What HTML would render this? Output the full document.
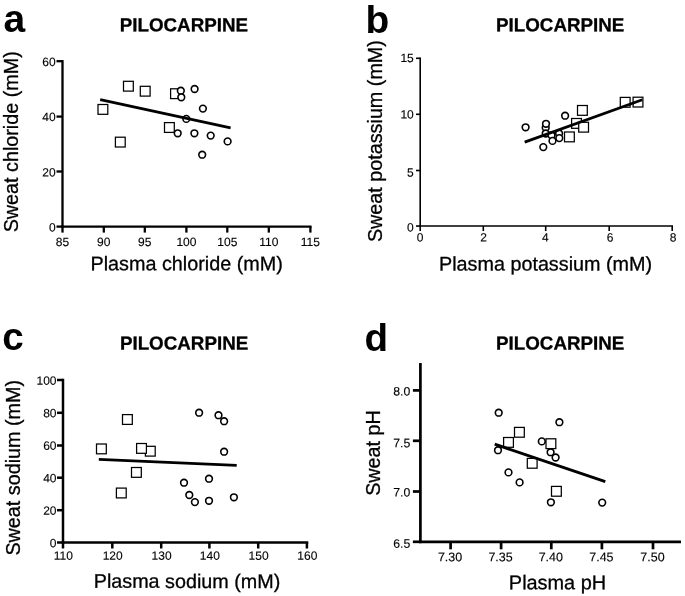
<!DOCTYPE html>
<html><head><meta charset="utf-8"><title>Pilocarpine sweat vs plasma</title>
<style>
html,body{margin:0;padding:0;background:#fff;}
body{width:685px;height:596px;overflow:hidden;font-family:"Liberation Sans", sans-serif;}
svg{display:block;will-change:transform;}
svg text{font-family:"Liberation Sans", sans-serif;fill:#000;stroke:#000;stroke-width:0.3px;}
</style></head>
<body>
<svg width="685" height="596" viewBox="0 0 685 596">
<rect x="0" y="0" width="685" height="596" fill="#ffffff"/>
<line x1="62.50" y1="60.05" x2="62.50" y2="227.75" stroke="#000" stroke-width="2.3" stroke-linecap="butt"/>
<line x1="61.35" y1="226.60" x2="311.55" y2="226.60" stroke="#000" stroke-width="2.3" stroke-linecap="butt"/>
<line x1="56.50" y1="61.20" x2="62.50" y2="61.20" stroke="#000" stroke-width="2.3" stroke-linecap="butt"/>
<text x="55.6" y="66.1" font-size="12" font-weight="normal" text-anchor="end" transform="rotate(0.03 55.6 66.1)" style="stroke-width:0.12px">60</text>
<line x1="56.50" y1="116.60" x2="62.50" y2="116.60" stroke="#000" stroke-width="2.3" stroke-linecap="butt"/>
<text x="55.6" y="120.9" font-size="12" font-weight="normal" text-anchor="end" transform="rotate(0.03 55.6 120.9)" style="stroke-width:0.12px">40</text>
<line x1="56.50" y1="171.50" x2="62.50" y2="171.50" stroke="#000" stroke-width="2.3" stroke-linecap="butt"/>
<text x="55.6" y="176.6" font-size="12" font-weight="normal" text-anchor="end" transform="rotate(0.03 55.6 176.6)" style="stroke-width:0.12px">20</text>
<line x1="56.50" y1="226.60" x2="62.50" y2="226.60" stroke="#000" stroke-width="2.3" stroke-linecap="butt"/>
<text x="55.6" y="231.5" font-size="12" font-weight="normal" text-anchor="end" transform="rotate(0.03 55.6 231.5)" style="stroke-width:0.12px">0</text>
<line x1="62.50" y1="226.60" x2="62.50" y2="232.60" stroke="#000" stroke-width="2.3" stroke-linecap="butt"/>
<text x="62.5" y="245.9" font-size="12" font-weight="normal" text-anchor="middle" transform="rotate(0.03 62.5 245.9)" style="stroke-width:0.12px">85</text>
<line x1="103.80" y1="226.60" x2="103.80" y2="232.60" stroke="#000" stroke-width="2.3" stroke-linecap="butt"/>
<text x="103.8" y="245.9" font-size="12" font-weight="normal" text-anchor="middle" transform="rotate(0.03 103.8 245.9)" style="stroke-width:0.12px">90</text>
<line x1="144.80" y1="226.60" x2="144.80" y2="232.60" stroke="#000" stroke-width="2.3" stroke-linecap="butt"/>
<text x="144.8" y="245.9" font-size="12" font-weight="normal" text-anchor="middle" transform="rotate(0.03 144.8 245.9)" style="stroke-width:0.12px">95</text>
<line x1="186.40" y1="226.60" x2="186.40" y2="232.60" stroke="#000" stroke-width="2.3" stroke-linecap="butt"/>
<text x="186.4" y="245.9" font-size="12" font-weight="normal" text-anchor="middle" transform="rotate(0.03 186.4 245.9)" style="stroke-width:0.12px">100</text>
<line x1="227.30" y1="226.60" x2="227.30" y2="232.60" stroke="#000" stroke-width="2.3" stroke-linecap="butt"/>
<text x="227.3" y="245.9" font-size="12" font-weight="normal" text-anchor="middle" transform="rotate(0.03 227.3 245.9)" style="stroke-width:0.12px">105</text>
<line x1="268.80" y1="226.60" x2="268.80" y2="232.60" stroke="#000" stroke-width="2.3" stroke-linecap="butt"/>
<text x="268.8" y="245.9" font-size="12" font-weight="normal" text-anchor="middle" transform="rotate(0.03 268.8 245.9)" style="stroke-width:0.12px">110</text>
<line x1="310.40" y1="226.60" x2="310.40" y2="232.60" stroke="#000" stroke-width="2.3" stroke-linecap="butt"/>
<text x="310.4" y="245.9" font-size="12" font-weight="normal" text-anchor="middle" transform="rotate(0.03 310.4 245.9)" style="stroke-width:0.12px">115</text>
<text x="183.9" y="31.3" font-size="18.8" font-weight="bold" text-anchor="middle" transform="rotate(0.03 183.9 31.3)">PILOCARPINE</text>
<text x="186.7" y="270.3" font-size="19.8" font-weight="normal" text-anchor="middle" transform="rotate(0.03 186.7 270.3)">Plasma chloride (mM)</text>
<text x="18.1" y="141.8" font-size="19.75" font-weight="normal" text-anchor="middle" transform="rotate(-90 18.1 141.8)">Sweat chloride (mM)</text>
<text x="3.4" y="31.8" font-size="39" font-weight="bold" text-anchor="start" style="stroke-width:0">a</text>
<rect x="98.00" y="104.50" width="9.8" height="9.8" fill="#fff" stroke="#000" stroke-width="1.25"/>
<rect x="115.40" y="137.20" width="9.8" height="9.8" fill="#fff" stroke="#000" stroke-width="1.25"/>
<rect x="123.50" y="81.30" width="9.8" height="9.8" fill="#fff" stroke="#000" stroke-width="1.25"/>
<rect x="140.30" y="86.30" width="9.8" height="9.8" fill="#fff" stroke="#000" stroke-width="1.25"/>
<rect x="164.50" y="122.60" width="9.8" height="9.8" fill="#fff" stroke="#000" stroke-width="1.25"/>
<rect x="170.60" y="88.80" width="9.8" height="9.8" fill="#fff" stroke="#000" stroke-width="1.25"/>
<circle cx="180.80" cy="90.70" r="3.35" fill="#fff" stroke="#000" stroke-width="1.6"/>
<circle cx="181.30" cy="97.30" r="3.35" fill="#fff" stroke="#000" stroke-width="1.6"/>
<circle cx="194.60" cy="89.00" r="3.35" fill="#fff" stroke="#000" stroke-width="1.6"/>
<circle cx="202.90" cy="108.60" r="3.35" fill="#fff" stroke="#000" stroke-width="1.6"/>
<circle cx="186.30" cy="118.90" r="3.35" fill="#fff" stroke="#000" stroke-width="1.6"/>
<circle cx="177.70" cy="133.30" r="3.35" fill="#fff" stroke="#000" stroke-width="1.6"/>
<circle cx="194.40" cy="133.30" r="3.35" fill="#fff" stroke="#000" stroke-width="1.6"/>
<circle cx="210.70" cy="135.60" r="3.35" fill="#fff" stroke="#000" stroke-width="1.6"/>
<circle cx="227.60" cy="141.40" r="3.35" fill="#fff" stroke="#000" stroke-width="1.6"/>
<circle cx="202.20" cy="154.70" r="3.35" fill="#fff" stroke="#000" stroke-width="1.6"/>
<line x1="100.20" y1="99.70" x2="230.60" y2="127.90" stroke="#000" stroke-width="2.8" stroke-linecap="butt"/>
<line x1="420.20" y1="57.50" x2="420.20" y2="226.85" stroke="#000" stroke-width="1.6" stroke-linecap="butt"/>
<line x1="419.40" y1="226.05" x2="673.00" y2="226.05" stroke="#000" stroke-width="1.6" stroke-linecap="butt"/>
<line x1="416.00" y1="58.30" x2="420.20" y2="58.30" stroke="#000" stroke-width="1.6" stroke-linecap="butt"/>
<text x="413.8" y="62.1" font-size="12" font-weight="normal" text-anchor="end" transform="rotate(0.03 413.8 62.1)" style="stroke-width:0.12px">15</text>
<line x1="416.00" y1="114.30" x2="420.20" y2="114.30" stroke="#000" stroke-width="1.6" stroke-linecap="butt"/>
<text x="413.8" y="118.6" font-size="12" font-weight="normal" text-anchor="end" transform="rotate(0.03 413.8 118.6)" style="stroke-width:0.12px">10</text>
<line x1="416.00" y1="170.50" x2="420.20" y2="170.50" stroke="#000" stroke-width="1.6" stroke-linecap="butt"/>
<text x="413.8" y="176.6" font-size="12" font-weight="normal" text-anchor="end" transform="rotate(0.03 413.8 176.6)" style="stroke-width:0.12px">5</text>
<line x1="416.00" y1="226.05" x2="420.20" y2="226.05" stroke="#000" stroke-width="1.6" stroke-linecap="butt"/>
<text x="413.8" y="231.6" font-size="12" font-weight="normal" text-anchor="end" transform="rotate(0.03 413.8 231.6)" style="stroke-width:0.12px">0</text>
<line x1="420.20" y1="226.05" x2="420.20" y2="231.05" stroke="#000" stroke-width="1.6" stroke-linecap="butt"/>
<text x="420.0" y="241.5" font-size="12" font-weight="normal" text-anchor="middle" transform="rotate(0.03 420.0 241.5)" style="stroke-width:0.12px">0</text>
<line x1="483.30" y1="226.05" x2="483.30" y2="231.05" stroke="#000" stroke-width="1.6" stroke-linecap="butt"/>
<text x="483.6" y="241.5" font-size="12" font-weight="normal" text-anchor="middle" transform="rotate(0.03 483.6 241.5)" style="stroke-width:0.12px">2</text>
<line x1="545.70" y1="226.05" x2="545.70" y2="231.05" stroke="#000" stroke-width="1.6" stroke-linecap="butt"/>
<text x="545.4" y="241.5" font-size="12" font-weight="normal" text-anchor="middle" transform="rotate(0.03 545.4 241.5)" style="stroke-width:0.12px">4</text>
<line x1="609.20" y1="226.05" x2="609.20" y2="231.05" stroke="#000" stroke-width="1.6" stroke-linecap="butt"/>
<text x="610.0" y="241.5" font-size="12" font-weight="normal" text-anchor="middle" transform="rotate(0.03 610.0 241.5)" style="stroke-width:0.12px">6</text>
<line x1="672.20" y1="226.05" x2="672.20" y2="231.05" stroke="#000" stroke-width="1.6" stroke-linecap="butt"/>
<text x="673.0" y="241.5" font-size="12" font-weight="normal" text-anchor="middle" transform="rotate(0.03 673.0 241.5)" style="stroke-width:0.12px">8</text>
<text x="560.2" y="31.3" font-size="18.8" font-weight="bold" text-anchor="middle" transform="rotate(0.03 560.2 31.3)">PILOCARPINE</text>
<text x="545.55" y="270.5" font-size="19.78" font-weight="normal" text-anchor="middle" transform="rotate(0.03 545.55 270.5)">Plasma potassium (mM)</text>
<text x="381.6" y="141.1" font-size="19.75" font-weight="normal" text-anchor="middle" transform="rotate(-90 381.6 141.1)">Sweat potassium (mM)</text>
<text x="365.44" y="33.3" font-size="38.9" font-weight="bold" text-anchor="start" style="stroke-width:0">b</text>
<circle cx="525.60" cy="127.30" r="3.35" fill="#fff" stroke="#000" stroke-width="1.6"/>
<circle cx="545.70" cy="127.80" r="3.35" fill="#fff" stroke="#000" stroke-width="1.6"/>
<circle cx="546.00" cy="123.80" r="3.35" fill="#fff" stroke="#000" stroke-width="1.6"/>
<circle cx="545.70" cy="133.50" r="3.35" fill="#fff" stroke="#000" stroke-width="1.6"/>
<circle cx="551.50" cy="135.30" r="3.35" fill="#fff" stroke="#000" stroke-width="1.6"/>
<circle cx="559.10" cy="133.50" r="3.35" fill="#fff" stroke="#000" stroke-width="1.6"/>
<circle cx="559.30" cy="138.10" r="3.35" fill="#fff" stroke="#000" stroke-width="1.6"/>
<circle cx="552.50" cy="140.90" r="3.35" fill="#fff" stroke="#000" stroke-width="1.6"/>
<circle cx="543.30" cy="147.10" r="3.35" fill="#fff" stroke="#000" stroke-width="1.6"/>
<circle cx="565.10" cy="115.70" r="3.35" fill="#fff" stroke="#000" stroke-width="1.6"/>
<rect x="577.50" y="105.50" width="9.8" height="9.8" fill="#fff" stroke="#000" stroke-width="1.25"/>
<rect x="571.60" y="118.50" width="9.8" height="9.8" fill="#fff" stroke="#000" stroke-width="1.25"/>
<rect x="578.70" y="122.30" width="9.8" height="9.8" fill="#fff" stroke="#000" stroke-width="1.25"/>
<rect x="564.50" y="132.00" width="9.8" height="9.8" fill="#fff" stroke="#000" stroke-width="1.25"/>
<rect x="620.30" y="97.40" width="9.8" height="9.8" fill="#fff" stroke="#000" stroke-width="1.25"/>
<rect x="633.10" y="97.20" width="9.8" height="9.8" fill="#fff" stroke="#000" stroke-width="1.25"/>
<line x1="524.70" y1="142.10" x2="642.30" y2="99.80" stroke="#000" stroke-width="2.8" stroke-linecap="butt"/>
<line x1="63.00" y1="378.75" x2="63.00" y2="543.75" stroke="#000" stroke-width="2.5" stroke-linecap="butt"/>
<line x1="61.75" y1="542.50" x2="308.25" y2="542.50" stroke="#000" stroke-width="2.5" stroke-linecap="butt"/>
<line x1="57.00" y1="380.00" x2="63.00" y2="380.00" stroke="#000" stroke-width="2.5" stroke-linecap="butt"/>
<text x="56.5" y="384.8" font-size="12" font-weight="normal" text-anchor="end" transform="rotate(0.03 56.5 384.8)" style="stroke-width:0.12px">100</text>
<line x1="57.00" y1="412.80" x2="63.00" y2="412.80" stroke="#000" stroke-width="2.5" stroke-linecap="butt"/>
<text x="56.5" y="417.3" font-size="12" font-weight="normal" text-anchor="end" transform="rotate(0.03 56.5 417.3)" style="stroke-width:0.12px">80</text>
<line x1="57.00" y1="445.50" x2="63.00" y2="445.50" stroke="#000" stroke-width="2.5" stroke-linecap="butt"/>
<text x="56.5" y="449.8" font-size="12" font-weight="normal" text-anchor="end" transform="rotate(0.03 56.5 449.8)" style="stroke-width:0.12px">60</text>
<line x1="57.00" y1="477.70" x2="63.00" y2="477.70" stroke="#000" stroke-width="2.5" stroke-linecap="butt"/>
<text x="56.5" y="482.3" font-size="12" font-weight="normal" text-anchor="end" transform="rotate(0.03 56.5 482.3)" style="stroke-width:0.12px">40</text>
<line x1="57.00" y1="510.20" x2="63.00" y2="510.20" stroke="#000" stroke-width="2.5" stroke-linecap="butt"/>
<text x="56.5" y="514.7" font-size="12" font-weight="normal" text-anchor="end" transform="rotate(0.03 56.5 514.7)" style="stroke-width:0.12px">20</text>
<line x1="57.00" y1="542.50" x2="63.00" y2="542.50" stroke="#000" stroke-width="2.5" stroke-linecap="butt"/>
<text x="56.5" y="547.3" font-size="12" font-weight="normal" text-anchor="end" transform="rotate(0.03 56.5 547.3)" style="stroke-width:0.12px">0</text>
<line x1="63.00" y1="542.50" x2="63.00" y2="548.50" stroke="#000" stroke-width="2.5" stroke-linecap="butt"/>
<text x="63.4" y="559.7" font-size="12" font-weight="normal" text-anchor="middle" transform="rotate(0.03 63.4 559.7)" style="stroke-width:0.12px">110</text>
<line x1="112.30" y1="542.50" x2="112.30" y2="548.50" stroke="#000" stroke-width="2.5" stroke-linecap="butt"/>
<text x="112.7" y="559.7" font-size="12" font-weight="normal" text-anchor="middle" transform="rotate(0.03 112.7 559.7)" style="stroke-width:0.12px">120</text>
<line x1="161.20" y1="542.50" x2="161.20" y2="548.50" stroke="#000" stroke-width="2.5" stroke-linecap="butt"/>
<text x="161.6" y="559.7" font-size="12" font-weight="normal" text-anchor="middle" transform="rotate(0.03 161.6 559.7)" style="stroke-width:0.12px">130</text>
<line x1="209.40" y1="542.50" x2="209.40" y2="548.50" stroke="#000" stroke-width="2.5" stroke-linecap="butt"/>
<text x="209.8" y="559.7" font-size="12" font-weight="normal" text-anchor="middle" transform="rotate(0.03 209.8 559.7)" style="stroke-width:0.12px">140</text>
<line x1="258.20" y1="542.50" x2="258.20" y2="548.50" stroke="#000" stroke-width="2.5" stroke-linecap="butt"/>
<text x="258.6" y="559.7" font-size="12" font-weight="normal" text-anchor="middle" transform="rotate(0.03 258.6 559.7)" style="stroke-width:0.12px">150</text>
<line x1="306.90" y1="542.50" x2="306.90" y2="548.50" stroke="#000" stroke-width="2.5" stroke-linecap="butt"/>
<text x="307.3" y="559.7" font-size="12" font-weight="normal" text-anchor="middle" transform="rotate(0.03 307.3 559.7)" style="stroke-width:0.12px">160</text>
<text x="184.1" y="349.5" font-size="18.8" font-weight="bold" text-anchor="middle" transform="rotate(0.03 184.1 349.5)">PILOCARPINE</text>
<text x="187" y="587.9" font-size="19.75" font-weight="normal" text-anchor="middle" transform="rotate(0.03 187 587.9)">Plasma sodium (mM)</text>
<text x="19.6" y="467.8" font-size="19.75" font-weight="normal" text-anchor="middle" transform="rotate(-90 19.6 467.8)">Sweat sodium (mM)</text>
<text x="2.2" y="350.2" font-size="38.6" font-weight="bold" text-anchor="start" style="stroke-width:0">c</text>
<rect x="96.50" y="444.00" width="9.8" height="9.8" fill="#fff" stroke="#000" stroke-width="1.25"/>
<rect x="122.50" y="414.60" width="9.8" height="9.8" fill="#fff" stroke="#000" stroke-width="1.25"/>
<rect x="145.40" y="446.30" width="9.8" height="9.8" fill="#fff" stroke="#000" stroke-width="1.25"/>
<rect x="136.60" y="443.50" width="9.8" height="9.8" fill="#fff" stroke="#000" stroke-width="1.25"/>
<rect x="131.50" y="467.50" width="9.8" height="9.8" fill="#fff" stroke="#000" stroke-width="1.25"/>
<rect x="116.40" y="488.10" width="9.8" height="9.8" fill="#fff" stroke="#000" stroke-width="1.25"/>
<circle cx="199.10" cy="412.70" r="3.35" fill="#fff" stroke="#000" stroke-width="1.6"/>
<circle cx="218.50" cy="415.20" r="3.35" fill="#fff" stroke="#000" stroke-width="1.6"/>
<circle cx="224.10" cy="421.20" r="3.35" fill="#fff" stroke="#000" stroke-width="1.6"/>
<circle cx="224.10" cy="451.70" r="3.35" fill="#fff" stroke="#000" stroke-width="1.6"/>
<circle cx="209.00" cy="478.70" r="3.35" fill="#fff" stroke="#000" stroke-width="1.6"/>
<circle cx="184.00" cy="482.70" r="3.35" fill="#fff" stroke="#000" stroke-width="1.6"/>
<circle cx="189.30" cy="495.00" r="3.35" fill="#fff" stroke="#000" stroke-width="1.6"/>
<circle cx="194.90" cy="502.10" r="3.35" fill="#fff" stroke="#000" stroke-width="1.6"/>
<circle cx="209.00" cy="500.80" r="3.35" fill="#fff" stroke="#000" stroke-width="1.6"/>
<circle cx="233.90" cy="497.30" r="3.35" fill="#fff" stroke="#000" stroke-width="1.6"/>
<line x1="98.80" y1="459.30" x2="236.70" y2="465.30" stroke="#000" stroke-width="2.8" stroke-linecap="butt"/>
<line x1="420.40" y1="363.00" x2="420.40" y2="543.15" stroke="#000" stroke-width="2.7" stroke-linecap="butt"/>
<line x1="419.05" y1="541.80" x2="681.00" y2="541.80" stroke="#000" stroke-width="2.7" stroke-linecap="butt"/>
<line x1="412.90" y1="390.40" x2="420.40" y2="390.40" stroke="#000" stroke-width="2.7" stroke-linecap="butt"/>
<text x="410.3" y="395.6" font-size="12.25" font-weight="normal" text-anchor="end" transform="rotate(0.03 410.3 395.6)" style="stroke-width:0.12px">8.0</text>
<line x1="412.90" y1="440.80" x2="420.40" y2="440.80" stroke="#000" stroke-width="2.7" stroke-linecap="butt"/>
<text x="410.3" y="447.3" font-size="12.25" font-weight="normal" text-anchor="end" transform="rotate(0.03 410.3 447.3)" style="stroke-width:0.12px">7.5</text>
<line x1="412.90" y1="491.50" x2="420.40" y2="491.50" stroke="#000" stroke-width="2.7" stroke-linecap="butt"/>
<text x="410.3" y="496.5" font-size="12.25" font-weight="normal" text-anchor="end" transform="rotate(0.03 410.3 496.5)" style="stroke-width:0.12px">7.0</text>
<line x1="412.90" y1="541.80" x2="420.40" y2="541.80" stroke="#000" stroke-width="2.7" stroke-linecap="butt"/>
<text x="410.3" y="547.8" font-size="12.25" font-weight="normal" text-anchor="end" transform="rotate(0.03 410.3 547.8)" style="stroke-width:0.12px">6.5</text>
<line x1="450.60" y1="541.80" x2="450.60" y2="549.30" stroke="#000" stroke-width="2.7" stroke-linecap="butt"/>
<text x="450.1" y="561.2" font-size="12.5" font-weight="normal" text-anchor="middle" transform="rotate(0.03 450.1 561.2)" style="stroke-width:0.12px">7.30</text>
<line x1="501.10" y1="541.80" x2="501.10" y2="549.30" stroke="#000" stroke-width="2.7" stroke-linecap="butt"/>
<text x="500.6" y="561.2" font-size="12.5" font-weight="normal" text-anchor="middle" transform="rotate(0.03 500.6 561.2)" style="stroke-width:0.12px">7.35</text>
<line x1="551.30" y1="541.80" x2="551.30" y2="549.30" stroke="#000" stroke-width="2.7" stroke-linecap="butt"/>
<text x="550.8" y="561.2" font-size="12.5" font-weight="normal" text-anchor="middle" transform="rotate(0.03 550.8 561.2)" style="stroke-width:0.12px">7.40</text>
<line x1="601.90" y1="541.80" x2="601.90" y2="549.30" stroke="#000" stroke-width="2.7" stroke-linecap="butt"/>
<text x="601.4" y="561.2" font-size="12.5" font-weight="normal" text-anchor="middle" transform="rotate(0.03 601.4 561.2)" style="stroke-width:0.12px">7.45</text>
<line x1="653.00" y1="541.80" x2="653.00" y2="549.30" stroke="#000" stroke-width="2.7" stroke-linecap="butt"/>
<text x="652.5" y="561.2" font-size="12.5" font-weight="normal" text-anchor="middle" transform="rotate(0.03 652.5 561.2)" style="stroke-width:0.12px">7.50</text>
<text x="560.2" y="349.5" font-size="18.8" font-weight="bold" text-anchor="middle" transform="rotate(0.03 560.2 349.5)">PILOCARPINE</text>
<text x="557.5" y="589.3" font-size="19.9" font-weight="normal" text-anchor="middle" transform="rotate(0.03 557.5 589.3)">Plasma pH</text>
<text x="380" y="453" font-size="19.75" font-weight="normal" text-anchor="middle" transform="rotate(-90 380 453)">Sweat pH</text>
<text x="364.62" y="350.91" font-size="38.6" font-weight="bold" text-anchor="start" style="stroke-width:0">d</text>
<circle cx="498.70" cy="412.70" r="3.35" fill="#fff" stroke="#000" stroke-width="1.6"/>
<circle cx="498.00" cy="450.20" r="3.35" fill="#fff" stroke="#000" stroke-width="1.6"/>
<circle cx="508.50" cy="472.40" r="3.35" fill="#fff" stroke="#000" stroke-width="1.6"/>
<circle cx="519.60" cy="482.40" r="3.35" fill="#fff" stroke="#000" stroke-width="1.6"/>
<circle cx="541.80" cy="441.40" r="3.35" fill="#fff" stroke="#000" stroke-width="1.6"/>
<circle cx="550.60" cy="452.20" r="3.35" fill="#fff" stroke="#000" stroke-width="1.6"/>
<circle cx="555.60" cy="457.50" r="3.35" fill="#fff" stroke="#000" stroke-width="1.6"/>
<circle cx="559.40" cy="422.20" r="3.35" fill="#fff" stroke="#000" stroke-width="1.6"/>
<circle cx="550.90" cy="502.30" r="3.35" fill="#fff" stroke="#000" stroke-width="1.6"/>
<circle cx="602.20" cy="502.60" r="3.35" fill="#fff" stroke="#000" stroke-width="1.6"/>
<rect x="503.60" y="437.50" width="9.8" height="9.8" fill="#fff" stroke="#000" stroke-width="1.25"/>
<rect x="514.50" y="427.40" width="9.8" height="9.8" fill="#fff" stroke="#000" stroke-width="1.25"/>
<rect x="527.30" y="458.40" width="9.8" height="9.8" fill="#fff" stroke="#000" stroke-width="1.25"/>
<rect x="546.00" y="438.80" width="9.8" height="9.8" fill="#fff" stroke="#000" stroke-width="1.25"/>
<rect x="551.50" y="486.40" width="9.8" height="9.8" fill="#fff" stroke="#000" stroke-width="1.25"/>
<line x1="494.70" y1="444.20" x2="605.30" y2="481.70" stroke="#000" stroke-width="2.9" stroke-linecap="butt"/>
</svg>
</body></html>
